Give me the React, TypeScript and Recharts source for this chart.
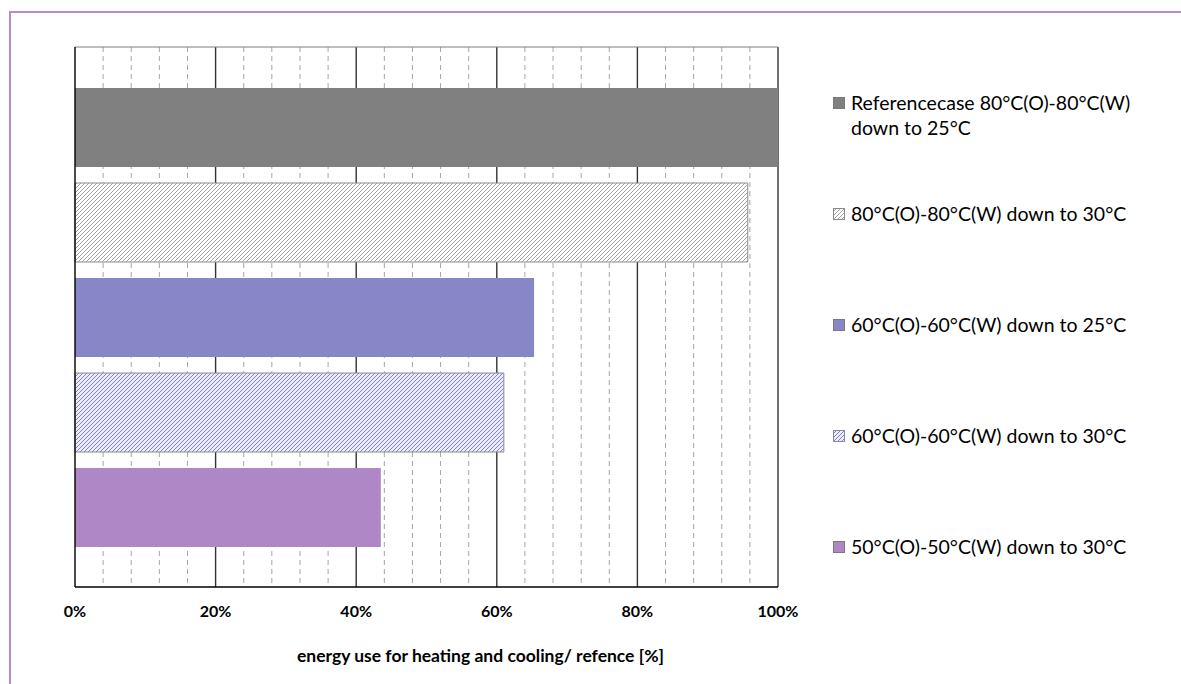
import React from "react";
import { BarChart, Bar, XAxis, YAxis, CartesianGrid, Legend } from "recharts";

// one category, five scenarios drawn as separate series
const categories = ["energy use"];
const seriesKeys = ["ref80", "s80w30", "s60w25", "s60w30", "s50w30"];
const seriesNames = [
  "Referencecase 80°C(O)-80°C(W) down to 25°C",
  "80°C(O)-80°C(W) down to 30°C",
  "60°C(O)-60°C(W) down to 25°C",
  "60°C(O)-60°C(W) down to 30°C",
  "50°C(O)-50°C(W) down to 30°C",
];
const seriesValues = [100, 95.7, 65.3, 61.0, 43.5];
const seriesFills = ["#808080", "url(#hatchGray)", "#8787c8", "url(#hatchBlue)", "#af86c6"];
const xTicks = [0, 20, 40, 60, 80, 100];
const minorTicks = [4, 8, 12, 16, 24, 28, 32, 36, 44, 48, 52, 56, 64, 68, 72, 76, 84, 88, 92, 96];
const majorLines = [20, 40, 60, 80, 100];
const axisTitle = "energy use for heating and cooling/ refence [%]";

const data = categories.map((name) => {
  const row: Record<string, string | number> = { name };
  seriesKeys.forEach((k, i) => (row[k] = seriesValues[i]));
  return row;
});

const isHatched = (i: number) => seriesFills[i].startsWith("url");

function Swatch({ i }: { i: number }) {
  return (
    <svg width={12} height={12} style={{ marginTop: 7, marginRight: 6, flex: "none" }}>
      <rect x={0.5} y={0.5} width={11} height={11} fill={seriesFills[i]} stroke={isHatched(i) ? "#8c8c8c" : "#7a7a7a"} />
    </svg>
  );
}

const renderLegend = () => (
  <div style={{ fontFamily: "Lato", fontSize: 19.5, lineHeight: "25px", color: "#000" }}>
    {seriesNames.map((n, i) => (
      <div key={n} style={{ display: "flex", alignItems: "flex-start", height: 111 }}>
        <Swatch i={i} />
        <span style={{ width: 300 }}>{n}</span>
      </div>
    ))}
  </div>
);

// axis title is offset a little to the right of the plot centre
const renderTitle = (props: any) => {
  const vb = props.viewBox || {};
  return (
    <text
      x={vb.x + vb.width / 2 + 54}
      y={662}
      textAnchor="middle"
      fontFamily="Lato"
      fontWeight={700}
      fontSize={17.5}
      fill="#000"
    >
      {axisTitle}
    </text>
  );
};

export default function App() {
  return (
    <div style={{ position: "absolute", left: 0, top: 0, width: 1181, height: 684, overflow: "hidden", background: "#fff" }}>
      <div
        style={{
          position: "absolute",
          left: 9,
          top: 11,
          width: 1200,
          height: 700,
          borderLeft: "2px solid #b38bd0",
          borderTop: "2px solid #b38bd0",
        }}
      />
      <BarChart
        width={1181}
        height={684}
        data={data}
        layout="vertical"
        margin={{ top: 46, right: 403, bottom: 37, left: 74 }}
        barSize={79}
        barGap={16}
        style={{ position: "absolute", left: 0, top: 0 }}
      >
        <defs>
          <pattern id="hatchGray" patternUnits="userSpaceOnUse" width={4} height={4}>
            <rect width={4} height={4} fill="#ffffff" />
            <path d="M-1,1 l2,-2 M0,4 l4,-4 M3,5 l2,-2" stroke="#a3a3a3" strokeWidth={1} />
          </pattern>
          <pattern id="hatchBlue" patternUnits="userSpaceOnUse" width={4} height={4}>
            <rect width={4} height={4} fill="#ececfb" />
            <path d="M-1,1 l2,-2 M0,4 l4,-4 M3,5 l2,-2" stroke="#8080e2" strokeWidth={1} />
          </pattern>
        </defs>
        <CartesianGrid horizontal={false} verticalValues={minorTicks} stroke="#a6a6a6" strokeDasharray="5 4" />
        <CartesianGrid horizontal={false} verticalValues={majorLines} stroke="#333" strokeWidth={1.4} />
        <XAxis
          type="number"
          domain={[0, 100]}
          ticks={xTicks}
          interval={0}
          tickFormatter={(v) => `${v}%`}
          tickLine={false}
          tickSize={6}
          tickMargin={13}
          axisLine={{ stroke: "#000", strokeWidth: 1.4 }}
          tick={{ fill: "#000", fontFamily: "Lato", fontWeight: 700, fontSize: 16 }}
          height={60}
          label={{ value: axisTitle, content: renderTitle }}
        />
        <XAxis
          xAxisId="top"
          orientation="top"
          type="number"
          domain={[0, 100]}
          height={1}
          tick={false}
          tickLine={false}
          axisLine={{ stroke: "#7f7f7f" }}
        />
        <YAxis type="category" dataKey="name" width={1} tick={false} tickLine={false} axisLine={{ stroke: "#000", strokeWidth: 1.4 }} />
        <Legend
          layout="horizontal"
          align="center"
          verticalAlign="middle"
          content={renderLegend}
          wrapperStyle={{ left: 833, top: 90, width: 340 }}
        />
        {seriesKeys.map((k, i) => (
          <Bar
            key={k}
            dataKey={k}
            name={seriesNames[i]}
            fill={seriesFills[i]}
            stroke={isHatched(i) ? "#8c8c8c" : "none"}
            isAnimationActive={false}
          />
        ))}
      </BarChart>
    </div>
  );
}
